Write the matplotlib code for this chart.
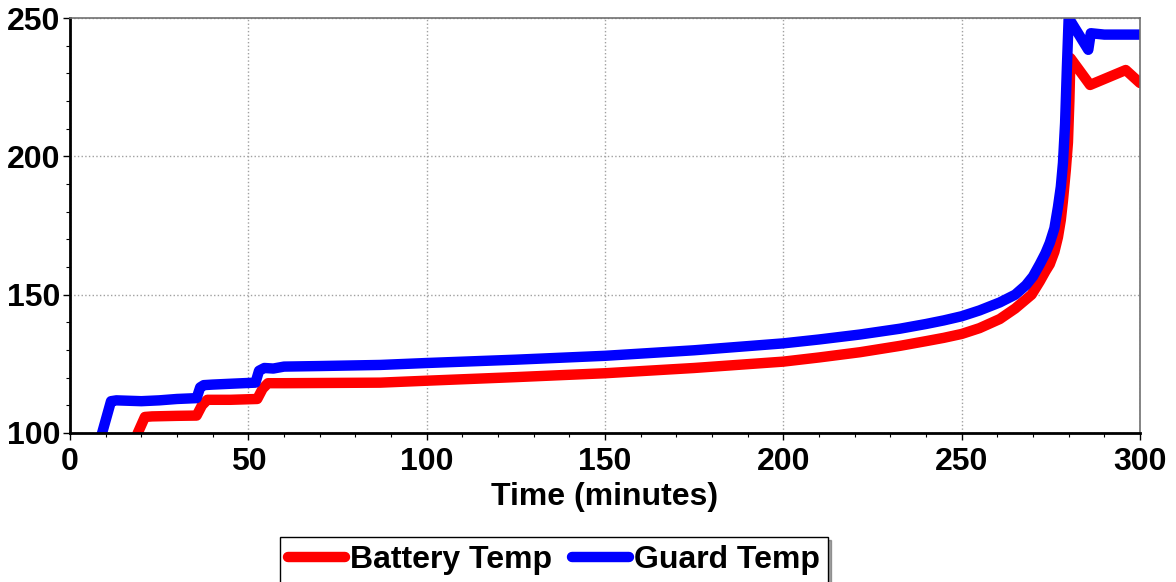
import numpy as np
import matplotlib
matplotlib.use("Agg")
import matplotlib.pyplot as plt
from matplotlib.ticker import MultipleLocator

# data
guard_t = [7.8, 9, 11.5, 13, 20, 25, 30, 35.5, 36.5, 37.5, 40, 45, 52, 53, 54.5,
           57, 60, 70, 87, 100, 125, 150, 175, 200, 210, 221.5, 232.7, 240, 245,
           250, 255, 260.7, 265, 268, 270, 271.9, 273.5, 274.7, 276, 277, 277.8,
           278.4, 279, 279.5, 280, 285.5, 286.2, 290, 300]
guard_temp = [95, 100, 111.5, 111.8, 111.5, 111.8, 112.3, 112.6, 116.5, 117.3,
              117.5, 117.8, 118.2, 122.5, 123.5, 123.3, 124, 124.2, 124.6, 125.3,
              126.5, 127.9, 129.9, 132.4, 133.8, 135.6, 137.7, 139.4, 140.7,
              142.2, 144.3, 147.2, 150, 153.4, 156.6, 161, 165, 168.7, 174,
              181.7, 189, 197.6, 212, 232, 250, 238.5, 244.5, 244, 244]

battery_t = [17.8, 19, 21, 23, 30, 35.5, 37, 38.5, 45, 52.5, 54, 55.5, 60, 87,
             100, 125, 150, 175, 200, 210, 221.5, 232.7, 240, 245, 250, 255,
             260.7, 265, 269.6, 271.9, 273.5, 274.7, 276, 277, 277.8, 278.4,
             279.2, 279.8, 280.2, 280.5, 286, 296, 300]
battery_temp = [95, 100, 105.8, 106, 106.2, 106.3, 110, 112, 112, 112.3, 116, 118,
                118, 118.2, 118.9, 120.2, 121.6, 123.5, 125.8, 127.3, 129.2, 131.5,
                133.2, 134.4, 135.8, 137.9, 141.2, 145, 150, 154.8, 158.5, 161,
                165.5, 170.8, 177, 184, 195, 205, 220, 235.5, 225.8, 231.2, 226.5]

plt.rcParams['font.family'] = ['Liberation Sans', 'DejaVu Sans']
plt.rcParams['font.weight'] = 'bold'

fig = plt.figure(figsize=(11.76, 5.82), dpi=100)
ax = fig.add_axes([70/1176, 149/582, 1070/1176, 415/582])

ax.plot(battery_t, battery_temp, color='#ff0000', lw=7.5, solid_capstyle='round',
        solid_joinstyle='round', label='Battery Temp')
ax.plot(guard_t, guard_temp, color='#0000ff', lw=7.5, solid_capstyle='round',
        solid_joinstyle='round', label='Guard Temp')

ax.set_xlim(0, 300)
ax.set_ylim(100, 250)
ax.xaxis.set_major_locator(MultipleLocator(50))
ax.yaxis.set_major_locator(MultipleLocator(50))
ax.xaxis.set_minor_locator(MultipleLocator(10))
ax.yaxis.set_minor_locator(MultipleLocator(10))
ax.grid(True, which='major', color='#a0a0a0', linestyle=':', lw=1)
ax.tick_params(which='major', direction='out', length=5, width=1, labelsize=23,
               pad=2)
ax.tick_params(axis='x', which='major', pad=5)
ax.tick_params(which='minor', direction='out', length=3, width=0.8)

for s in ['left', 'bottom']:
    ax.spines[s].set_linewidth(2)
    ax.spines[s].set_color('black')
for s in ['top', 'right']:
    ax.spines[s].set_linewidth(1.2)
    ax.spines[s].set_color('#707070')

ax.set_xlabel('Time (minutes)', fontsize=23, fontweight='bold', labelpad=4)

leg = fig.legend(loc='upper left', bbox_to_anchor=(280/1176, 1 - 537/582),
                 ncol=2, fontsize=23, frameon=True, fancybox=False, shadow=True,
                 handlelength=1.8, handletextpad=0.15, columnspacing=0.6,
                 borderpad=0.25, borderaxespad=0)
leg.get_frame().set_edgecolor('black')
leg.get_frame().set_linewidth(1)

fig.savefig('out.png', dpi=100)
